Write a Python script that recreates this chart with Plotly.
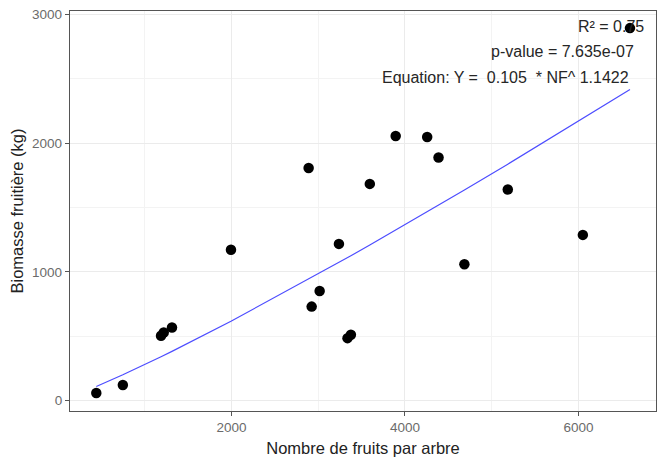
import plotly.graph_objects as go

# Data
nb_fruits = [443, 749, 1189, 1220, 1315, 1995, 2890, 2925, 3017, 3239,
             3338, 3377, 3595, 3893, 4256, 4387, 4685, 5185, 6050, 6593]
biomasse = [60, 122, 504, 530, 568, 1172, 1808, 731, 852, 1218,
            486, 512, 1684, 2056, 2048, 1889, 1060, 1641, 1288, 2894]
# Fitted curve values (Y = 0.105 * NF^1.1422) at the data x values
fit_y = [110.6, 201.6, 341.8, 352.0, 383.4, 617.2, 942.4, 955.5, 989.8, 1073.5,
         1111.1, 1125.8, 1209.3, 1324.4, 1466.4, 1518.0, 1636.4, 1837.3, 2191.5, 2417.8]

annot_texts = ["R² = 0.75", "p-value = 7.635e-07", "Equation: Y =  0.105  * NF^ 1.1422"]
annot_x = [6773, 6662, 6604]
annot_y = [2905, 2712, 2514]

x_ticks = [2000, 4000, 6000]
y_ticks = [0, 1000, 2000, 3000]

FONT = "Liberation Sans, Arial, sans-serif"

fig = go.Figure()
fig.add_trace(go.Scatter(x=nb_fruits, y=fit_y, mode="lines",
                         line=dict(color="#4d4dff", width=1.2),
                         showlegend=False, hoverinfo="skip"))
fig.add_trace(go.Scatter(x=nb_fruits, y=biomasse, mode="markers",
                         marker=dict(color="black", size=10.5),
                         showlegend=False))

for t, ax, ay in zip(annot_texts, annot_x, annot_y):
    fig.add_annotation(x=ax, y=ay, text=t, showarrow=False, xanchor="right",
                       yanchor="middle", font=dict(family=FONT, size=16, color="#262626"))

axis_common = dict(
    showline=True, mirror=True, linecolor="#555555", linewidth=1.3,
    ticks="outside", ticklen=4, tickcolor="#555555", tickwidth=1,
    gridcolor="#ebebeb", gridwidth=1, zeroline=False,
    tickfont=dict(family=FONT, size=13.5, color="#6b6b6b"),
    minor=dict(showgrid=True, gridcolor="#f3f3f3", gridwidth=0.8, ticks=""),
)

fig.update_xaxes(range=[140, 6893], tickvals=x_ticks, ticktext=[str(v) for v in x_ticks],
                 minor_tickvals=[1000, 3000, 5000],
                 title=dict(text="Nombre de fruits par arbre", standoff=8,
                            font=dict(family=FONT, size=16.5, color="#222222")),
                 **axis_common)
fig.update_yaxes(range=[-80, 3027], tickvals=y_ticks, ticktext=[str(v) for v in y_ticks],
                 minor_tickvals=[500, 1500, 2500],
                 title=dict(text="Biomasse fruitière (kg)", standoff=4,
                            font=dict(family=FONT, size=16.5, color="#222222")),
                 **axis_common)

fig.update_layout(width=659, height=457, margin=dict(l=70, r=2, t=11, b=44),
                  plot_bgcolor="white", paper_bgcolor="white",
                  font=dict(family=FONT))

fig.write_html("out.html")
